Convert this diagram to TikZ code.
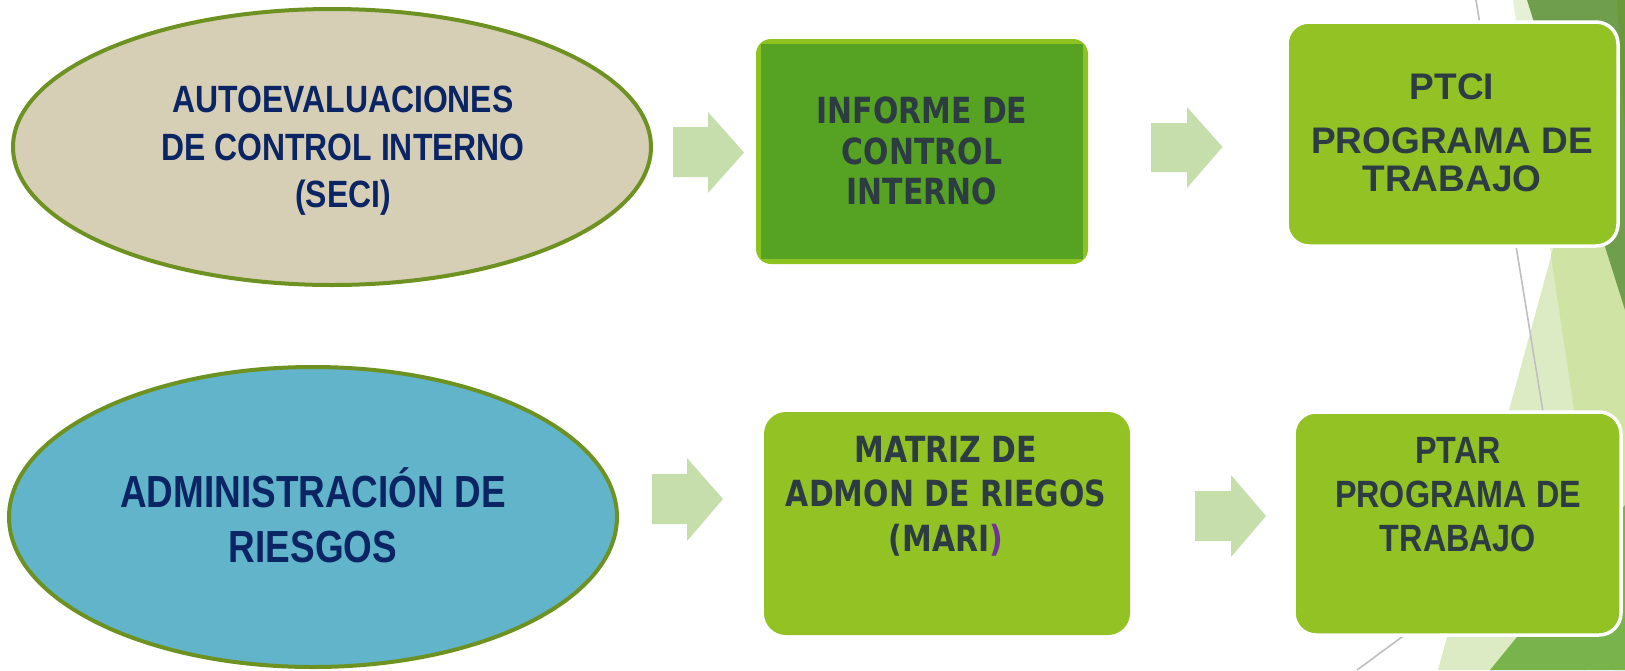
\documentclass[tikz,border=0pt]{standalone}
\usepackage{fontspec}
\usetikzlibrary{shapes.geometric}
\newfontfamily\narrowA[FakeStretch=0.84]{Liberation Sans}
\newfontfamily\narrowB[FakeStretch=0.82]{Liberation Sans}
\newfontfamily\arialF{Liberation Sans}
\newfontfamily\arialN[FakeStretch=0.85]{Liberation Sans}
\newfontfamily\tahomaF[FakeStretch=0.83]{DejaVu Sans}
\definecolor{tanfill}{HTML}{D6CFB6}
\definecolor{olivedge}{HTML}{6E9222}
\definecolor{tealfill}{HTML}{61B4CA}
\definecolor{navytext}{HTML}{0B2463}
\definecolor{arrowcol}{HTML}{C5DEAB}
\definecolor{boxgreen}{HTML}{92C224}
\definecolor{darkbox}{HTML}{56A222}
\definecolor{lightrim}{HTML}{8EC21F}
\definecolor{slatetext}{HTML}{2D3B43}
\definecolor{mpurple}{HTML}{7030A0}
\definecolor{tricolA}{HTML}{E6F0D5}
\definecolor{tricolB}{HTML}{DDEBC4}
\definecolor{tricolC}{HTML}{CFE3A5}
\definecolor{darkA}{HTML}{6F9E4C}
\definecolor{darkB}{HTML}{78B34C}
\definecolor{darkS}{HTML}{6A9A3C}
\definecolor{grayline}{HTML}{BFBFBF}
\newcommand\myarrow[8]{\fill[arrowcol] (#1,#4) -- (#2,#4) -- (#2,#6) -- (#3,#8) -- (#2,#7) -- (#2,#5) -- (#1,#5) -- cycle;}
\begin{document}
\begin{tikzpicture}[x=1pt,y=-1pt,
  oval/.style={ellipse, draw=olivedge, line width=4pt, inner sep=0pt},
  gbox/.style={rectangle, rounded corners=22pt, fill=boxgreen, inner sep=0pt},
  wbox/.style={gbox, draw=white, line width=3.5pt},
  txt/.style={inner sep=0pt, align=center, anchor=south},
  glin/.style={draw=grayline, line width=1.6pt}]
\useasboundingbox (0,0) rectangle (1625,670);
% background facets
\fill[tricolA] (1513,0) -- (1625,0) -- (1625,670) -- (1613,670) -- cycle;
\fill[tricolB] (1621,0) -- (1625,0) -- (1625,670) -- (1438,670) -- cycle;
\fill[tricolC] (1621,0) -- (1625,0) -- (1625,670) -- (1613,670) -- (1551,256) -- cycle;
\draw[glin] (1476,0) -- (1585,670);
\draw[glin] (1357,670) -- (1425,620);
\fill[darkA] (1527,0) -- (1625,0) -- (1625,310) -- cycle;
\fill[darkS] (1617,0) -- (1625,0) -- (1625,130) -- cycle;
\fill[darkB] (1490,670) -- (1625,670) -- (1625,505) -- cycle;
% ellipses
\node[oval, fill=tanfill, minimum width=638pt, minimum height=276pt] (e1) at (332,147) {};
\node[oval, fill=tealfill, minimum width=608pt, minimum height=300pt] (e2) at (313,517) {};
% boxes
\node[rectangle, rounded corners=15pt, fill=lightrim, minimum width=332pt, minimum height=225pt, inner sep=0pt] (inf) at (922,151.5) {};
\node[rectangle, fill=darkbox, minimum width=322pt, minimum height=215pt, inner sep=0pt] (infin) at (inf.center) {};
\node[wbox, minimum width=331pt, minimum height=224pt] (ptci) at (1452.5,134) {};
\node[gbox, minimum width=366pt, minimum height=223pt] (mari) at (947,523.5) {};
\node[wbox, minimum width=327pt, minimum height=223pt] (ptar) at (1457.5,523.5) {};
% block arrows
\myarrow{673}{708}{744}{127}{177}{112}{193}{152.5}
\myarrow{1151}{1187}{1222.5}{123}{172}{107}{188}{147}
\myarrow{652}{687}{723}{474}{524}{458}{541}{499}
\myarrow{1195}{1231}{1266}{491}{541}{475}{557}{516}
% texts
\node[txt, text=navytext, font={\narrowA\bfseries\fontsize{38}{47.5}\selectfont}] (t1) at (343,216) {AUTOEVALUACIONES\\DE CONTROL INTERNO\\(SECI)};
\node[txt, text=navytext, font={\narrowB\bfseries\fontsize{45}{55}\selectfont}] (t2) at (313,562.7) {ADMINISTRACIÓN DE\\RIESGOS};
\node[txt, text=slatetext, font={\tahomaF\bfseries\fontsize{36}{40.5}\selectfont}] (t3) at (922,205.5) {INFORME DE\\CONTROL\\INTERNO};
\node[txt, text=slatetext, font={\arialF\bfseries\fontsize{37}{38}\selectfont}] (t4) at (1452,192) {PTCI\\[16pt]PROGRAMA DE\\TRABAJO};
\node[txt, text=slatetext, font={\tahomaF\bfseries\fontsize{36}{44.5}\selectfont}] (t5) at (946,556) {MATRIZ DE\\ADMON DE RIEGOS\\(MARI\textcolor{mpurple}{)}};
\node[txt, text=slatetext, font={\arialN\bfseries\fontsize{38}{44}\selectfont}] (t6) at (1458,552) {PTAR\\PROGRAMA DE\\TRABAJO};
\end{tikzpicture}
\end{document}
